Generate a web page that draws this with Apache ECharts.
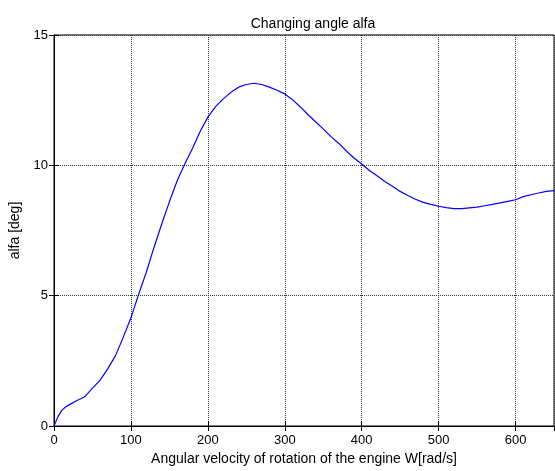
<!DOCTYPE html>
<html>
<head>
<meta charset="utf-8">
<script src="https://cdn.jsdelivr.net/npm/echarts@6/dist/echarts.min.js"></script>
<style>
  html, body { margin: 0; padding: 0; background: #fff; }
  #main { width: 555px; height: 471px; }
</style>
</head>
<body>
<div id="main"></div>
<script>
// angular velocity W [rad/s] and angle alfa [deg]
var omega = [0, 5, 10, 15, 20, 30, 40, 50, 60, 70, 80, 90, 100, 110, 120, 130, 140, 150, 160, 170,
  180, 190, 200, 210, 220, 230, 240, 250, 260, 270, 280, 290, 300, 310, 320, 330, 340, 350, 360,
  370, 380, 390, 400, 410, 420, 430, 440, 450, 460, 470, 480, 490, 500, 510, 520, 530, 540, 550,
  560, 570, 580, 590, 600, 610, 620, 630, 640, 650]
var alfa = [0, 0.35, 0.6, 0.73, 0.82, 0.98, 1.12, 1.45, 1.76, 2.2, 2.7, 3.4, 4.15, 5.05, 5.9, 6.85,
  7.75, 8.6, 9.4, 10.05, 10.65, 11.3, 11.85, 12.25, 12.55, 12.8, 13.0, 13.1, 13.15, 13.1, 13.0,
  12.88, 12.74, 12.52, 12.25, 11.95, 11.67, 11.4, 11.1, 10.85, 10.55, 10.28, 10.05, 9.8, 9.6,
  9.38, 9.2, 9.0, 8.84, 8.7, 8.58, 8.5, 8.43, 8.38, 8.34, 8.34, 8.37, 8.4, 8.45, 8.5, 8.56, 8.62,
  8.68, 8.8, 8.87, 8.94, 9.0, 9.03]
var xTicks = [0, 100, 200, 300, 400, 500, 600]
var yTicks = [0, 5, 10, 15]

var font = 'Liberation Sans, Arial, sans-serif'
var points = omega.map(function (w, i) { return [w, alfa[i]] })

var chart = echarts.init(document.getElementById('main'))
var tick = { show: true, inside: true, length: 5, lineStyle: { color: '#000' } }
var grid = { type: 'dotted', color: '#333', width: 1 }

chart.setOption({
  animation: false,
  title: {
    text: 'Changing angle alfa',
    left: 308,
    textAlign: 'center',
    top: 12,
    textStyle: { fontFamily: font, fontSize: 14, fontWeight: 'normal', color: '#000' }
  },
  grid: { left: 54, right: 1, top: 35, bottom: 42, show: true, borderColor: '#000', borderWidth: 1 },
  xAxis: [
    {
      type: 'value',
      min: 0,
      max: 650,
      interval: 100,
      name: 'Angular velocity of rotation of the engine W[rad/s]',
      nameLocation: 'middle',
      nameGap: 26,
      nameTextStyle: { fontFamily: font, fontSize: 14, color: '#000' },
      axisLine: { show: true, lineStyle: { color: '#000' } },
      axisTick: tick,
      axisLabel: {
        fontFamily: font, fontSize: 13, color: '#000', margin: 8,
        showMaxLabel: false,
        formatter: function (v) { return xTicks.indexOf(v) >= 0 ? v : '' }
      },
      splitLine: { show: true, lineStyle: grid }
    },
    {
      type: 'value', position: 'top', min: 0, max: 650, interval: 100,
      axisLine: { show: true, lineStyle: { color: '#000' } },
      axisTick: tick, axisLabel: { show: false }, splitLine: { show: false }
    }
  ],
  yAxis: [
    {
      type: 'value',
      min: 0,
      max: 15,
      interval: 5,
      name: 'alfa [deg]',
      nameLocation: 'middle',
      nameGap: 31,
      nameTextStyle: { fontFamily: font, fontSize: 14, color: '#000' },
      axisLine: { show: true, lineStyle: { color: '#000' } },
      axisTick: tick,
      axisLabel: {
        fontFamily: font, fontSize: 13, color: '#000', margin: 6,
        formatter: function (v) { return yTicks.indexOf(v) >= 0 ? v : '' }
      },
      splitLine: { show: true, lineStyle: grid }
    },
    {
      type: 'value', position: 'right', min: 0, max: 15, interval: 5,
      axisLine: { show: true, lineStyle: { color: '#000' } },
      axisTick: tick, axisLabel: { show: false }, splitLine: { show: false }
    }
  ],
  series: [
    {
      type: 'line',
      data: points,
      showSymbol: false,
      smooth: false,
      lineStyle: { color: '#0000ff', width: 1.2 }
    }
  ]
})
</script>
</body>
</html>
